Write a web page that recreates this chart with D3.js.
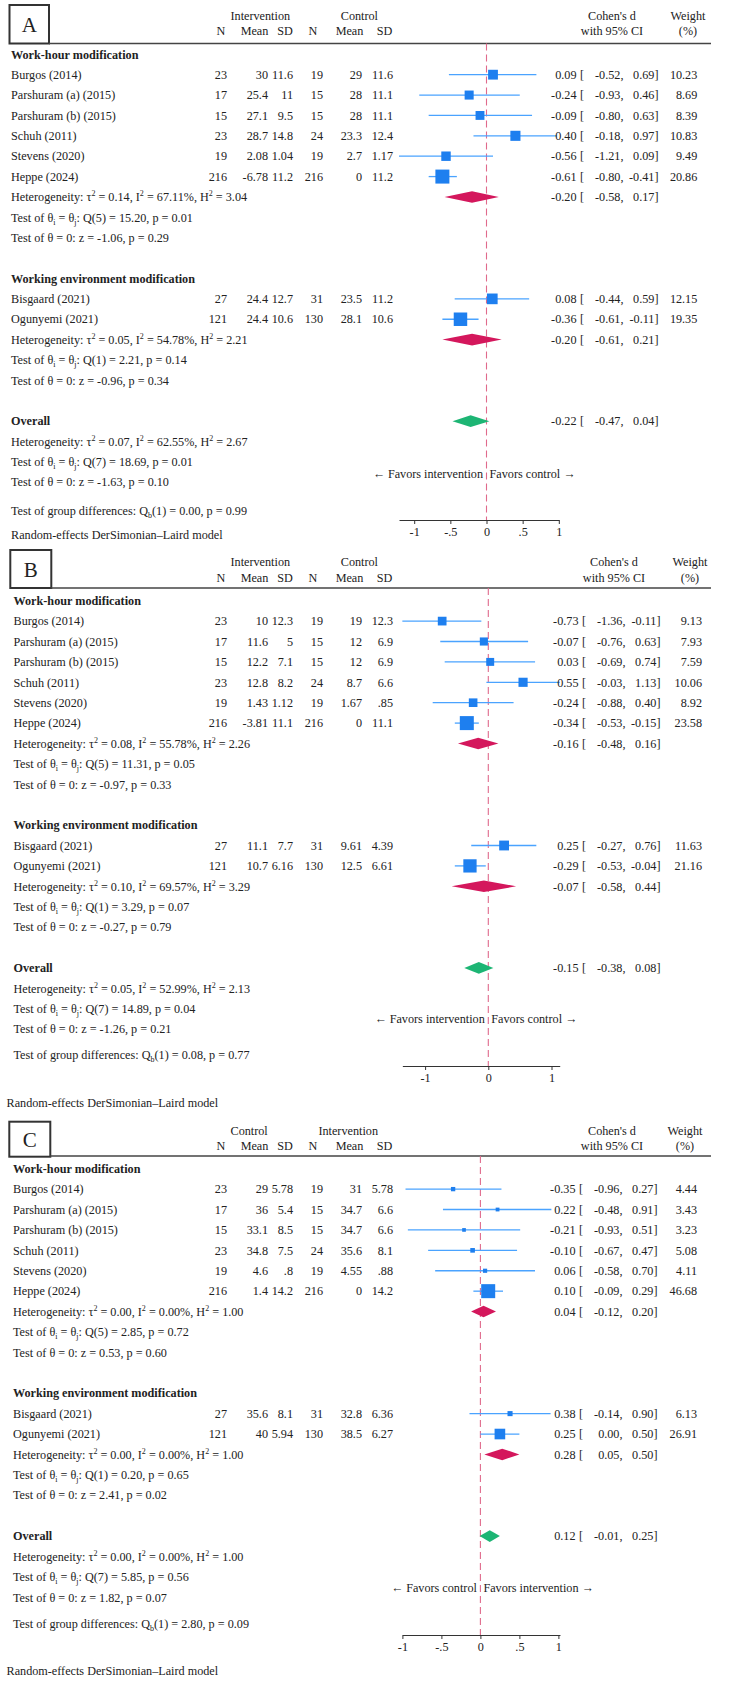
<!DOCTYPE html>
<html><head><meta charset="utf-8">
<script src="https://cdn.jsdelivr.net/npm/d3@7"></script>
<style>
body{margin:0;background:#fff}
svg text{font-family:"Liberation Serif","Times New Roman",serif;font-size:12.2px;fill:#222}
</style>
</head><body>
<svg id="c" width="729" height="1693"></svg>
<script>
// ---------------- DATA ----------------
const studies = ["Burgos (2014)","Parshuram (a) (2015)","Parshuram (b) (2015)","Schuh (2011)","Stevens (2020)","Heppe (2024)","Bisgaard (2021)","Ogunyemi (2021)"];
const studyGroup = [0,0,0,0,0,0,1,1];
const groupNames = ["Work-hour modification","Working environment modification"];
const colHeaders = ["N","Mean","SD","N","Mean","SD"];

// Panel A
const aArms = ["Intervention","Control"];
const aFavors = ["\u2190 Favors intervention","Favors control \u2192"];
const aN1 = ["23","17","15","23","19","216","27","121"];
const aMean1 = ["30","25.4","27.1","28.7","2.08","-6.78","24.4","24.4"];
const aSD1 = ["11.6","11","9.5","14.8","1.04","11.2","12.7","10.6"];
const aN2 = ["19","15","15","24","19","216","31","130"];
const aMean2 = ["29","28","28","23.3","2.7","0","23.5","28.1"];
const aSD2 = ["11.6","11.1","11.1","12.4","1.17","11.2","11.2","10.6"];
const aD = [0.09,-0.24,-0.09,0.40,-0.56,-0.61,0.08,-0.36];
const aLo = [-0.52,-0.93,-0.80,-0.18,-1.21,-0.80,-0.44,-0.61];
const aHi = [0.69,0.46,0.63,0.97,0.09,-0.41,0.59,-0.11];
const aW = [10.23,8.69,8.39,10.83,9.49,20.86,12.15,19.35];
const aSumD = [-0.20,-0.20,-0.22];   // group1, group2, overall
const aSumLo = [-0.58,-0.61,-0.47];
const aSumHi = [0.17,0.21,0.04];
const aTau2 = ["0.14","0.05","0.07"];
const aI2 = ["67.11%","54.78%","62.55%"];
const aH2 = ["3.04","2.21","2.67"];
const aQdf = ["5","1","7"];
const aQ = ["15.20","2.21","18.69"];
const aQp = ["0.01","0.14","0.01"];
const aZ = ["-1.06","-0.96","-1.63"];
const aZp = ["0.29","0.34","0.10"];
const aQb = ["0.00","0.99"];
const aTicks = [-1,-0.5,0,0.5,1];
const aTickLabels = ["-1","-.5","0",".5","1"];

// Panel B
const bArms = ["Intervention","Control"];
const bFavors = ["\u2190 Favors intervention","Favors control \u2192"];
const bN1 = ["23","17","15","23","19","216","27","121"];
const bMean1 = ["10","11.6","12.2","12.8","1.43","-3.81","11.1","10.7"];
const bSD1 = ["12.3","5","7.1","8.2","1.12","11.1","7.7","6.16"];
const bN2 = ["19","15","15","24","19","216","31","130"];
const bMean2 = ["19","12","12","8.7","1.67","0","9.61","12.5"];
const bSD2 = ["12.3","6.9","6.9","6.6",".85","11.1","4.39","6.61"];
const bD = [-0.73,-0.07,0.03,0.55,-0.24,-0.34,0.25,-0.29];
const bLo = [-1.36,-0.76,-0.69,-0.03,-0.88,-0.53,-0.27,-0.53];
const bHi = [-0.11,0.63,0.74,1.13,0.40,-0.15,0.76,-0.04];
const bW = [9.13,7.93,7.59,10.06,8.92,23.58,11.63,21.16];
const bSumD = [-0.16,-0.07,-0.15];
const bSumLo = [-0.48,-0.58,-0.38];
const bSumHi = [0.16,0.44,0.08];
const bTau2 = ["0.08","0.10","0.05"];
const bI2 = ["55.78%","69.57%","52.99%"];
const bH2 = ["2.26","3.29","2.13"];
const bQdf = ["5","1","7"];
const bQ = ["11.31","3.29","14.89"];
const bQp = ["0.05","0.07","0.04"];
const bZ = ["-0.97","-0.27","-1.26"];
const bZp = ["0.33","0.79","0.21"];
const bQb = ["0.08","0.77"];
const bTicks = [-1,0,1];
const bTickLabels = ["-1","0","1"];

// Panel C
const cArms = ["Control","Intervention"];
const cFavors = ["\u2190 Favors control","Favors intervention \u2192"];
const cN1 = ["23","17","15","23","19","216","27","121"];
const cMean1 = ["29","36","33.1","34.8","4.6","1.4","35.6","40"];
const cSD1 = ["5.78","5.4","8.5","7.5",".8","14.2","8.1","5.94"];
const cN2 = ["19","15","15","24","19","216","31","130"];
const cMean2 = ["31","34.7","34.7","35.6","4.55","0","32.8","38.5"];
const cSD2 = ["5.78","6.6","6.6","8.1",".88","14.2","6.36","6.27"];
const cD = [-0.35,0.22,-0.21,-0.10,0.06,0.10,0.38,0.25];
const cLo = [-0.96,-0.48,-0.93,-0.67,-0.58,-0.09,-0.14,0.00];
const cHi = [0.27,0.91,0.51,0.47,0.70,0.29,0.90,0.50];
const cW = [4.44,3.43,3.23,5.08,4.11,46.68,6.13,26.91];
const cSumD = [0.04,0.28,0.12];
const cSumLo = [-0.12,0.05,-0.01];
const cSumHi = [0.20,0.50,0.25];
const cTau2 = ["0.00","0.00","0.00"];
const cI2 = ["0.00%","0.00%","0.00%"];
const cH2 = ["1.00","1.00","1.00"];
const cQdf = ["5","1","7"];
const cQ = ["2.85","0.20","5.85"];
const cQp = ["0.72","0.65","0.56"];
const cZ = ["0.53","2.41","1.82"];
const cZp = ["0.60","0.02","0.07"];
const cQb = ["2.80","0.09"];
const cTicks = [-1,-0.5,0,0.5,1];
const cTickLabels = ["-1","-.5","0",".5","1"];

// ---------------- LAYOUT / STYLE ----------------
const colRight = [227,268,293,323,362,393];
const hdrCenter = [221,254.5,285,313,349.5,384.5];
const COL = {sq:"#1E7FEF", ci:"#4AA3FF", grp:"#D4175C", ovr:"#1DB574", ref:"#E06A8C", ink:"#222", frame:"#333"};

const panels = [
  {letter:"A", arms:aArms, favors:aFavors, cols:[aN1,aMean1,aSD1,aN2,aMean2,aSD2], d:aD, lo:aLo, hi:aHi, w:aW,
   sd:aSumD, slo:aSumLo, shi:aSumHi, tau2:aTau2, i2:aI2, h2:aH2, qdf:aQdf, q:aQ, qp:aQp, z:aZ, zp:aZp, qb:aQb,
   ticks:aTicks, tickLabels:aTickLabels,
   L:{box:[9.5,5,39.5,38.5], hdr1:16, hdr2:31, line:43.5, row0:54.3, pitch:20.38, x0:486.5, unit:72.3,
      axisMin:-1.21, axisMax:1, axisY:520, favorsY:473.3, gdY:510.7, reX:11, reY:534.3, labelX:11,
      effShift:0, wX:697.3, wHdr:688, cdHdr:612}},
  {letter:"B", arms:bArms, favors:bFavors, cols:[bN1,bMean1,bSD1,bN2,bMean2,bSD2], d:bD, lo:bLo, hi:bHi, w:bW,
   sd:bSumD, slo:bSumLo, shi:bSumHi, tau2:bTau2, i2:bI2, h2:bH2, qdf:bQdf, q:bQ, qp:bQp, z:bZ, zp:bZp, qb:bQb,
   ticks:bTicks, tickLabels:bTickLabels,
   L:{box:[10.3,550,41,38], hdr1:562, hdr2:577.7, line:588, row0:600.7, pitch:20.4, x0:488.3, unit:63.2,
      axisMin:-1.36, axisMax:1.13, axisY:1066, favorsY:1019, gdY:1055, reX:6.5, reY:1102.7, labelX:13.5,
      effShift:2, wX:702, wHdr:690, cdHdr:614}},
  {letter:"C", arms:cArms, favors:cFavors, cols:[cN1,cMean1,cSD1,cN2,cMean2,cSD2], d:cD, lo:cLo, hi:cHi, w:cW,
   sd:cSumD, slo:cSumLo, shi:cSumHi, tau2:cTau2, i2:cI2, h2:cH2, qdf:cQdf, q:cQ, qp:cQp, z:cZ, zp:cZp, qb:cQb,
   ticks:cTicks, tickLabels:cTickLabels,
   L:{box:[9.3,1121.7,41,35], hdr1:1130.5, hdr2:1145.5, line:1156, row0:1168.7, pitch:20.41, x0:480.4, unit:78,
      axisMin:-1, axisMax:1.02, axisY:1635, favorsY:1587.3, gdY:1623.3, reX:6.5, reY:1671, labelX:13,
      effShift:-1, wX:697, wHdr:685, cdHdr:612}}
];

const svg = d3.select("#c");
const BL = 4.2; // center -> baseline offset

function txt(g, x, y, s, anchor, bold) {
  const t = g.append("text").attr("x", x).attr("y", y + BL).attr("text-anchor", anchor || "start").text(s);
  if (bold) t.attr("font-weight", "bold");
  return t;
}
function rich(g, x, y, parts) {
  const t = g.append("text").attr("x", x).attr("y", y + BL);
  let shift = 0;
  parts.forEach(p => {
    const s = Array.isArray(p) ? p[0] : p, m = Array.isArray(p) ? p[1] : "";
    const target = m === "sup" ? -5 : (m === "sub" ? 3 : 0);
    const ts = t.append("tspan").text(s);
    if (target - shift !== 0) ts.attr("dy", target - shift);
    if (m) ts.style("font-size", "8px");
    shift = target;
  });
  return t;
}

function drawPanel(p) {
  const L = p.L, g = svg.append("g");
  const rowY = i => L.row0 + i * L.pitch;
  const x = d3.scaleLinear().domain([L.axisMin, L.axisMax])
    .range([L.x0 + L.axisMin * L.unit, L.x0 + L.axisMax * L.unit]);

  // box + letter
  const [bx, by, bw, bh] = L.box;
  g.append("rect").attr("x", bx).attr("y", by).attr("width", bw).attr("height", bh)
    .attr("fill", "none").attr("stroke", COL.frame).attr("stroke-width", 2);
  g.append("text").attr("x", bx + bw / 2).attr("y", by + bh / 2 + 7.5).attr("text-anchor", "middle")
    .style("font-size", "21px").text(p.letter);
  // header rule
  g.append("line").attr("x1", bx + bw).attr("x2", 711).attr("y1", L.line).attr("y2", L.line)
    .attr("stroke", "#444").attr("stroke-width", 1.6);

  // headers
  txt(g, 230.5, L.hdr1, p.arms[0], "start");
  txt(g, 378, L.hdr1, p.arms[1], "end");
  colHeaders.forEach((h, i) => txt(g, hdrCenter[i], L.hdr2, h, "middle"));
  txt(g, L.cdHdr, L.hdr1, "Cohen's d", "middle");
  txt(g, L.cdHdr, L.hdr2, "with 95% CI", "middle");
  txt(g, L.wHdr, L.hdr1, "Weight", "middle");
  txt(g, L.wHdr, L.hdr2, "(%)", "middle");

  // reference dashed line at 0
  g.append("line").attr("x1", x(0)).attr("x2", x(0)).attr("y1", L.line).attr("y2", L.axisY)
    .attr("stroke", COL.ref).attr("stroke-width", 1.1).attr("stroke-dasharray", "7,4");

  const maxW = d3.max(p.w);
  const eff = (y, d, lo, hi) => {
    const s = L.effShift;
    txt(g, 576.5 + s, y, d.toFixed(2), "end");
    txt(g, 580 + s, y, "[", "start");
    txt(g, 623.5 + s, y, lo.toFixed(2) + ",", "end");
    txt(g, 658.5 + s, y, hi.toFixed(2) + "]", "end");
  };
  const diamond = (y, d, lo, hi, color) => {
    const h = 5.8;
    g.append("path").attr("d", `M${x(lo)},${y}L${x(d)},${y - h}L${x(hi)},${y}L${x(d)},${y + h}Z`)
      .attr("fill", color);
  };
  const stats = (r, k) => {
    rich(g, L.labelX, rowY(r), ["Heterogeneity: \u03C4", ["2", "sup"], " = " + p.tau2[k] + ", I", ["2", "sup"],
      " = " + p.i2[k] + ", H", ["2", "sup"], " = " + p.h2[k]]);
    rich(g, L.labelX, rowY(r + 1), ["Test of \u03B8", ["i", "sub"], " = \u03B8", ["j", "sub"],
      ": Q(" + p.qdf[k] + ") = " + p.q[k] + ", p = " + p.qp[k]]);
    rich(g, L.labelX, rowY(r + 2), ["Test of \u03B8 = 0: z = " + p.z[k] + ", p = " + p.zp[k]]);
  };

  let r = 0;
  groupNames.forEach((gn, gi) => {
    txt(g, L.labelX, rowY(r), gn, "start", true);
    r++;
    studies.forEach((s, i) => {
      if (studyGroup[i] !== gi) return;
      const y = rowY(r);
      txt(g, L.labelX, y, s);
      p.cols.forEach((col, ci) => txt(g, colRight[ci], y, col[i], "end"));
      g.append("line").attr("x1", x(p.lo[i])).attr("x2", x(p.hi[i])).attr("y1", y).attr("y2", y)
        .attr("stroke", COL.ci).attr("stroke-width", 1.3);
      const side = 14 * Math.sqrt(p.w[i] / maxW);
      g.append("rect").attr("x", x(p.d[i]) - side / 2).attr("y", y - side / 2)
        .attr("width", side).attr("height", side).attr("fill", COL.sq);
      eff(y, p.d[i], p.lo[i], p.hi[i]);
      txt(g, L.wX, y, p.w[i].toFixed(2), "end");
      r++;
    });
    diamond(rowY(r), p.sd[gi], p.slo[gi], p.shi[gi], COL.grp);
    eff(rowY(r), p.sd[gi], p.slo[gi], p.shi[gi]);
    stats(r, gi);
    r += 4;
  });
  // overall
  txt(g, L.labelX, rowY(r), "Overall", "start", true);
  diamond(rowY(r), p.sd[2], p.slo[2], p.shi[2], COL.ovr);
  eff(rowY(r), p.sd[2], p.slo[2], p.shi[2]);
  stats(r + 1, 2);

  rich(g, L.labelX, L.gdY, ["Test of group differences: Q", ["b", "sub"], "(1) = " + p.qb[0] + ", p = " + p.qb[1]]);
  txt(g, x(0) - 3.5, L.favorsY, p.favors[0], "end");
  txt(g, x(0) + 3, L.favorsY, p.favors[1], "start");

  // axis
  const ax = g.append("g").attr("transform", `translate(0,${L.axisY})`)
    .call(d3.axisBottom(x).tickValues(p.ticks).tickSize(4).tickSizeOuter(0).tickPadding(3)
      .tickFormat((d, i) => p.tickLabels[i]));
  ax.select(".domain").attr("stroke", "#333").attr("stroke-width", 1.2);
  ax.selectAll(".tick line").attr("stroke", "#333");
  ax.selectAll(".tick text").style("font-size", "12.2px").style("font-family", '"Liberation Serif",serif').attr("fill", COL.ink);

  txt(g, L.reX, L.reY, "Random-effects DerSimonian\u2013Laird model");
}

panels.forEach(drawPanel);
</script>
</body></html>
